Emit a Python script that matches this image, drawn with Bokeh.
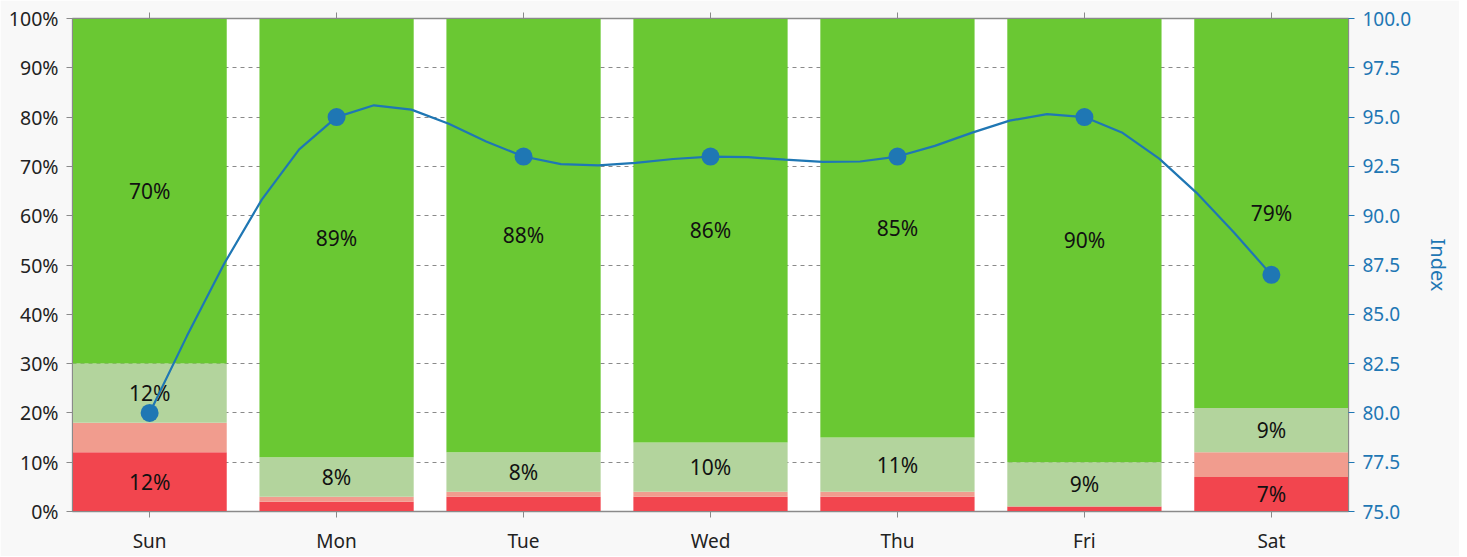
import numpy as np
from bokeh.plotting import figure
from bokeh.models import (Range1d, LinearAxis, FixedTicker, PrintfTickFormatter,
                          NumeralTickFormatter)
from bokeh.core.properties import value
from bokeh.embed import file_html
from bokeh.resources import INLINE

days = ["Sun", "Mon", "Tue", "Wed", "Thu", "Fri", "Sat"]
red = [12, 2, 3, 3, 3, 1, 7]
salmon = [6, 1, 1, 1, 1, 0, 5]
light_green = [12, 8, 8, 10, 11, 9, 9]
green = [70, 89, 88, 86, 85, 90, 79]
index_vals = [80, 95, 93, 93, 93, 95, 87]
pct_ticks = list(range(0, 101, 10))
index_ticks = [75.0, 77.5, 80.0, 82.5, 85.0, 87.5, 90.0, 92.5, 95.0, 97.5, 100.0]

layers = [red, salmon, light_green, green]
colors = ["#f2454e", "#f19c8e", "#b3d49d", "#6ac833"]

FONT = "Noto Sans"
BAR_W = 0.825
x = np.arange(len(days))

p = figure(frame_width=1276, frame_height=493, output_backend="svg",
           toolbar_location=None, x_range=Range1d(-BAR_W / 2, len(days) - 1 + BAR_W / 2),
           y_range=Range1d(0, 100), min_border_left=72, min_border_right=111,
           min_border_top=18, min_border_bottom=40,
           background_fill_color="white", border_fill_color="#f8f8f8",
           outline_line_color="#8a8a8a", outline_line_width=1.3)

p.extra_y_ranges = {"idx": Range1d(75, 100)}

# dashed horizontal grid drawn beneath the bars
p.xgrid.visible = False
p.ygrid.visible = False
p.hspan(y=pct_ticks[1:-1], line_color="#8a8a8a", line_dash="4 4", line_width=1)

bottom = np.zeros(len(days))
lx, ly, lt = [], [], []
for vals, col in zip(layers, colors):
    v = np.array(vals, dtype=float)
    top = bottom + v
    p.vbar(x=x, bottom=bottom, top=top, width=BAR_W, fill_color=col, line_color=None)
    for i in range(len(days)):
        if v[i] >= 7:
            lx.append(x[i]); ly.append((bottom[i] + top[i]) / 2); lt.append(f"{int(v[i])}%")
    bottom = top

p.text(x=lx, y=ly, text=lt, text_align="center", text_baseline="middle",
       text_font=value(FONT), text_font_size="21px", text_color="#111111")

# smooth curve (natural cubic spline) through index values
def natural_spline(xs, ys, n_sub=5):
    xs = np.asarray(xs, float); ys = np.asarray(ys, float)
    n = len(xs)
    h = np.diff(xs)
    A = np.zeros((n, n)); b = np.zeros(n)
    A[0, 0] = 1; A[-1, -1] = 1
    for i in range(1, n - 1):
        A[i, i - 1] = h[i - 1]; A[i, i] = 2 * (h[i - 1] + h[i]); A[i, i + 1] = h[i]
        b[i] = 6 * ((ys[i + 1] - ys[i]) / h[i] - (ys[i] - ys[i - 1]) / h[i - 1])
    M = np.linalg.solve(A, b)
    xo, yo = [], []
    for i in range(n - 1):
        ts = np.linspace(xs[i], xs[i + 1], n_sub + 1)
        if i < n - 2:
            ts = ts[:-1]
        for t in ts:
            a = xs[i + 1] - t; c = t - xs[i]
            yv = (M[i] * a ** 3 + M[i + 1] * c ** 3) / (6 * h[i]) + \
                 (ys[i] / h[i] - M[i] * h[i] / 6) * a + (ys[i + 1] / h[i] - M[i + 1] * h[i] / 6) * c
            xo.append(t); yo.append(yv)
    return xo, yo

sx, sy = natural_spline(x, index_vals)
p.line(sx, sy, y_range_name="idx", line_color="#1f77b4", line_width=2.2)
p.scatter(x, index_vals, y_range_name="idx", size=18, fill_color="#1f77b4", line_color=None)

# axes styling
def style(ax, color="#8a8a8a", label_color="#222222"):
    ax.axis_line_color = color
    ax.major_tick_line_color = color
    ax.minor_tick_line_color = None
    ax.major_tick_out = 6
    ax.major_tick_in = 0
    ax.major_label_text_font = FONT
    ax.major_label_text_font_size = "19px"
    ax.major_label_text_color = label_color

xa = p.xaxis[0]
xa.ticker = FixedTicker(ticks=list(x))
xa.major_label_overrides = {int(i): d for i, d in zip(x, days)}
style(xa)
xa.major_label_standoff = 10

ya = p.yaxis[0]
ya.ticker = FixedTicker(ticks=pct_ticks)
ya.formatter = PrintfTickFormatter(format="%d%%")
style(ya)
ya.major_label_text_font_size = "19.5px"
ya.major_label_standoff = 8

top_ax = LinearAxis(ticker=FixedTicker(ticks=list(x)))
style(top_ax)
top_ax.major_label_text_color = None
top_ax.major_label_text_font_size = "1px"
top_ax.major_label_standoff = 0
p.add_layout(top_ax, "above")

ra = LinearAxis(y_range_name="idx", ticker=FixedTicker(ticks=index_ticks),
                formatter=NumeralTickFormatter(format="0.0"), axis_label="Index")
style(ra, color="#1f77b4", label_color="#1f77b4")
ra.axis_line_color = "#8a8a8a"
ra.major_label_standoff = 8
ra.axis_label_text_font = FONT
ra.axis_label_text_font_style = "normal"
ra.axis_label_text_font_size = "20px"
ra.axis_label_text_color = "#1f77b4"
ra.axis_label_standoff = 11
p.add_layout(ra, "right")

open("out.html", "w").write(file_html(p, INLINE))
